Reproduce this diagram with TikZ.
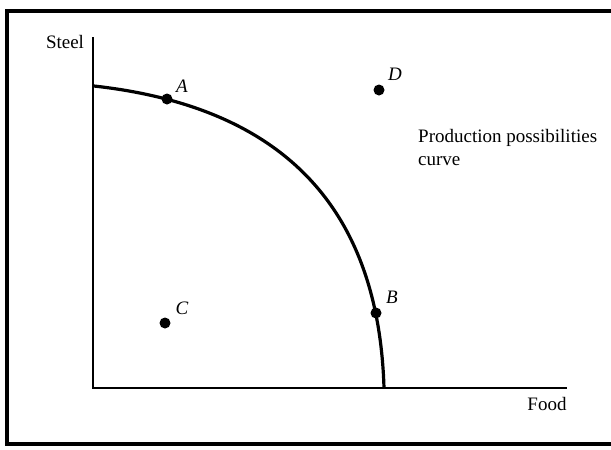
\documentclass[tikz,border=0pt]{standalone}
\usepackage{fontspec}
\setmainfont{Liberation Serif}
\usepackage{tikz}
\usetikzlibrary{positioning}
\tikzset{
  marco/.style={draw=black,line width=3.5pt},
  eje/.style={draw=black,line width=1.8pt},
  curva/.style={draw=black,line width=3.2pt},
  punto/.style={circle,fill=black,inner sep=0pt,minimum size=11pt},
  letra/.style={font=\fontsize{19}{23}\selectfont\itshape,inner sep=0pt},
  texto/.style={font=\fontsize{19}{23}\selectfont,inner sep=0pt},
}

\begin{document}
\begin{tikzpicture}[x=1pt,y=-1pt]
\useasboundingbox (0,0) rectangle (611,450);
% marco
\coordinate (m1) at (620,11);
\coordinate (m2) at (7,11);
\coordinate (m3) at (7,444);
\coordinate (m4) at (620,444);
\draw[marco] (m1) -- (m2) -- (m3) -- (m4);
% ejes
\coordinate (o) at (93,388);
\coordinate (ey) at (93,37);
\coordinate (ex) at (567,388);
\draw[eje] (ey) -- (o) -- (ex);
\node[texto] (acero) at (65,42) {Steel};
\node[texto] (comida) at (547,404) {Food};
% curva de posibilidades
\coordinate (c0) at (94,86);
\coordinate (c3) at (384,388);
\draw[curva] (c0) .. controls (264,105) and (378,190) .. (c3);
\node[texto,anchor=west,align=left] (rotulo) at (418,147.5) {Production possibilities\\curve};
% puntos
\node[punto] (pA) at (167,99) {};
\node[punto] (pB) at (376,313) {};
\node[punto] (pC) at (165,323) {};
\node[punto] (pD) at (379,90) {};
\node[letra] at (182,86) {A};
\node[letra] at (392,297) {B};
\node[letra] at (182,308) {C};
\node[letra] at (395,74) {D};
\end{tikzpicture}
\end{document}
